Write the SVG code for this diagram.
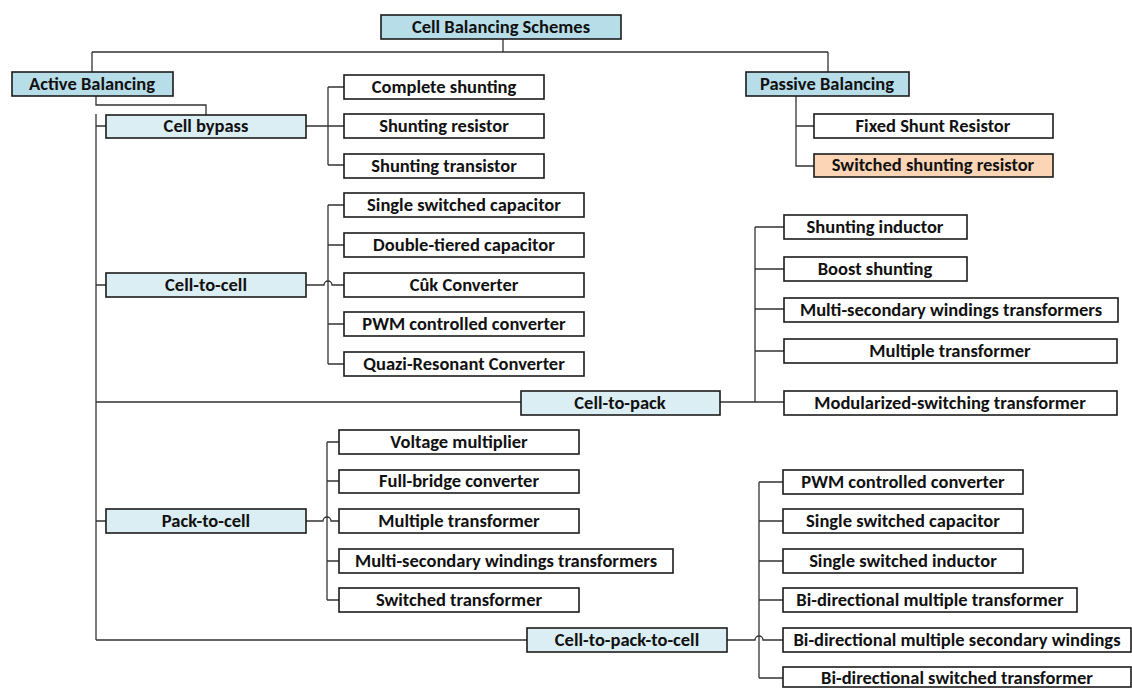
<svg xmlns="http://www.w3.org/2000/svg" width="1132" height="688" viewBox="0 0 1132 688">
  <style>
    .box { stroke: #1c1c1c; stroke-width: 1.6; }
    .hdr { fill: #b7dde8; }
    .sub { fill: #dbeef3; }
    .leaf { fill: #ffffff; }
    .hl { fill: #fbd5b5; }
    .lbl { font-family: Carlito, Calibri, "Liberation Sans", Arial, sans-serif; font-weight: bold; font-size: 18.5px; fill: #111; text-anchor: middle; }
    .wire { fill: none; stroke: #333333; stroke-width: 1.3; }
  </style>
  <rect width="1132" height="688" fill="#ffffff"/>

  <!-- connectors -->
  <g id="connectors" class="wire">
    <!-- root to the two families -->
    <path d="M503,39 V52 M92,52 H828 M92,52 V72 M828,52 V72"/>
    <!-- active balancing -->
    <path d="M96,96 V105 H206 V115"/>
    <path d="M96,114 V640"/>
    <path d="M96,126 H106 M96,285 H106 M96,402 H521 M96,521 H106 M96,640 H527"/>
    <!-- cell bypass -->
    <path d="M306,126 H344 M328,87 V165 M328,87 H344 M328,165 H344"/>
    <!-- cell-to-cell -->
    <path d="M328,205 V364 M328,205 H344 M328,245 H344 M328,324 H344 M328,364 H344"/>
    <path d="M306,285 H324 A4,4 0 0 1 332,285 H344"/>
    <!-- cell-to-pack -->
    <path d="M720,402 H784 M755,227 V402 M755,227 H784 M755,269 H784 M755,309 H784 M755,351 H784"/>
    <!-- pack-to-cell -->
    <path d="M327,442 V600 M327,442 H339 M327,481 H339 M327,561 H339 M327,600 H339"/>
    <path d="M306,521 H323 A4,4 0 0 1 331,521 H339"/>
    <!-- cell-to-pack-to-cell -->
    <path d="M759,482 V678 M759,482 H783 M759,521 H783 M759,561 H783 M759,600 H783 M759,678 H783"/>
    <path d="M727,640 H755 A4,4 0 0 1 763,640 H783"/>
    <!-- passive balancing -->
    <path d="M796,96 V166 H814 M796,126 H814"/>
  </g>

  <!-- top level -->
  <g id="cell-balancing-schemes"><rect class="box hdr" x="381" y="15" width="240" height="24"/><text class="lbl" x="501" y="33">Cell Balancing Schemes</text></g>
  <g id="active-balancing"><rect class="box hdr" x="12" y="72" width="161" height="24"/><text class="lbl" x="92" y="90">Active Balancing</text></g>
  <g id="passive-balancing"><rect class="box hdr" x="746" y="72" width="163" height="24"/><text class="lbl" x="827" y="90">Passive Balancing</text></g>

  <!-- active balancing categories -->
  <g id="cell-bypass"><rect class="box sub" x="106" y="115" width="200" height="23"/><text class="lbl" x="206" y="132">Cell bypass</text></g>
  <g id="cell-to-cell"><rect class="box sub" x="106" y="273" width="200" height="24"/><text class="lbl" x="206" y="291">Cell-to-cell</text></g>
  <g id="cell-to-pack"><rect class="box sub" x="521" y="391" width="199" height="24"/><text class="lbl" x="620" y="409">Cell-to-pack</text></g>
  <g id="pack-to-cell"><rect class="box sub" x="106" y="509" width="200" height="24"/><text class="lbl" x="206" y="527">Pack-to-cell</text></g>
  <g id="cell-to-pack-to-cell"><rect class="box sub" x="527" y="628" width="200" height="24"/><text class="lbl" x="627" y="646">Cell-to-pack-to-cell</text></g>

  <!-- cell bypass methods -->
  <g id="complete-shunting"><rect class="box leaf" x="344" y="75" width="200" height="24"/><text class="lbl" x="444" y="93">Complete shunting</text></g>
  <g id="shunting-resistor"><rect class="box leaf" x="344" y="114" width="200" height="24"/><text class="lbl" x="444" y="132">Shunting resistor</text></g>
  <g id="shunting-transistor"><rect class="box leaf" x="344" y="154" width="200" height="24"/><text class="lbl" x="444" y="172">Shunting transistor</text></g>

  <!-- cell-to-cell methods -->
  <g id="c2c-single-switched-capacitor"><rect class="box leaf" x="344" y="193" width="240" height="24"/><text class="lbl" x="464" y="211">Single switched capacitor</text></g>
  <g id="c2c-double-tiered-capacitor"><rect class="box leaf" x="344" y="233" width="240" height="24"/><text class="lbl" x="464" y="251">Double-tiered capacitor</text></g>
  <g id="c2c-cuk-converter"><rect class="box leaf" x="344" y="273" width="240" height="24"/><text class="lbl" x="464" y="291">Cûk Converter</text></g>
  <g id="c2c-pwm-controlled-converter"><rect class="box leaf" x="344" y="312" width="240" height="24"/><text class="lbl" x="464" y="330">PWM controlled converter</text></g>
  <g id="c2c-quazi-resonant-converter"><rect class="box leaf" x="344" y="352" width="240" height="24"/><text class="lbl" x="464" y="370">Quazi-Resonant Converter</text></g>

  <!-- cell-to-pack methods -->
  <g id="c2p-shunting-inductor"><rect class="box leaf" x="784" y="215" width="183" height="24"/><text class="lbl" x="875" y="233">Shunting inductor</text></g>
  <g id="c2p-boost-shunting"><rect class="box leaf" x="784" y="257" width="183" height="24"/><text class="lbl" x="875" y="275">Boost shunting</text></g>
  <g id="c2p-multi-secondary"><rect class="box leaf" x="784" y="298" width="334" height="24"/><text class="lbl" x="951" y="316">Multi-secondary windings transformers</text></g>
  <g id="c2p-multiple-transformer"><rect class="box leaf" x="784" y="339" width="333" height="24"/><text class="lbl" x="950" y="357">Multiple transformer</text></g>
  <g id="c2p-modularized-switching"><rect class="box leaf" x="784" y="391" width="333" height="24"/><text class="lbl" x="950" y="409">Modularized-switching transformer</text></g>

  <!-- pack-to-cell methods -->
  <g id="p2c-voltage-multiplier"><rect class="box leaf" x="339" y="430" width="240" height="24"/><text class="lbl" x="459" y="448">Voltage multiplier</text></g>
  <g id="p2c-full-bridge"><rect class="box leaf" x="339" y="470" width="240" height="23"/><text class="lbl" x="459" y="487">Full-bridge converter</text></g>
  <g id="p2c-multiple-transformer"><rect class="box leaf" x="339" y="509" width="240" height="24"/><text class="lbl" x="459" y="527">Multiple transformer</text></g>
  <g id="p2c-multi-secondary"><rect class="box leaf" x="339" y="549" width="334" height="24"/><text class="lbl" x="506" y="567">Multi-secondary windings transformers</text></g>
  <g id="p2c-switched-transformer"><rect class="box leaf" x="339" y="588" width="240" height="24"/><text class="lbl" x="459" y="606">Switched transformer</text></g>

  <!-- cell-to-pack-to-cell methods -->
  <g id="c2p2c-pwm-controlled-converter"><rect class="box leaf" x="783" y="470" width="240" height="24"/><text class="lbl" x="903" y="488">PWM controlled converter</text></g>
  <g id="c2p2c-single-switched-capacitor"><rect class="box leaf" x="783" y="509" width="240" height="24"/><text class="lbl" x="903" y="527">Single switched capacitor</text></g>
  <g id="c2p2c-single-switched-inductor"><rect class="box leaf" x="783" y="549" width="240" height="24"/><text class="lbl" x="903" y="567">Single switched inductor</text></g>
  <g id="c2p2c-bidirectional-multiple-transformer"><rect class="box leaf" x="783" y="588" width="294" height="24"/><text class="lbl" x="930" y="606">Bi-directional multiple transformer</text></g>
  <g id="c2p2c-bidirectional-secondary-windings"><rect class="box leaf" x="783" y="628" width="348" height="24"/><text class="lbl" x="957" y="646">Bi-directional multiple secondary windings</text></g>
  <g id="c2p2c-bidirectional-switched-transformer"><rect class="box leaf" x="783" y="667" width="348" height="20"/><text class="lbl" x="957" y="684">Bi-directional switched transformer</text></g>

  <!-- passive balancing methods -->
  <g id="fixed-shunt-resistor"><rect class="box leaf" x="814" y="114" width="239" height="24"/><text class="lbl" x="933" y="132">Fixed Shunt Resistor</text></g>
  <g id="switched-shunting-resistor"><rect class="box hl" x="814" y="154" width="239" height="23"/><text class="lbl" x="933" y="171">Switched shunting resistor</text></g>
</svg>
